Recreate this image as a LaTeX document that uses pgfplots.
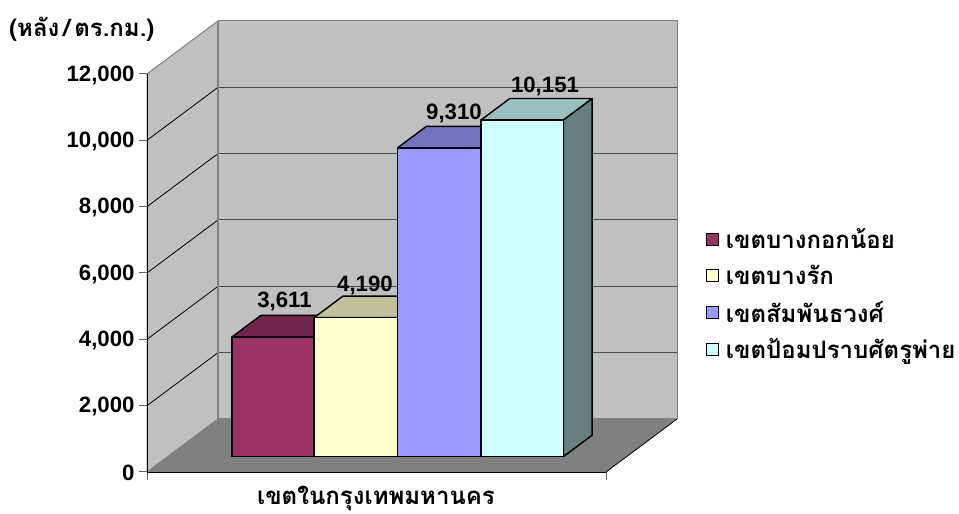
\documentclass[border=0pt]{standalone}
\usepackage{fontspec}
\usepackage{pgfplots}
\pgfplotsset{compat=1.18}
\setmainfont{Liberation Sans}
\newfontfamily\thaifont[Script=Thai]{Loma}
\definecolor{wall}{HTML}{C0C0C0}
\definecolor{floorc}{HTML}{808080}
\definecolor{aF}{HTML}{993366}\definecolor{aT}{HTML}{73264D}\definecolor{aS}{HTML}{4D1A33}
\definecolor{bF}{HTML}{FFFFCC}\definecolor{bT}{HTML}{C0C099}\definecolor{bS}{HTML}{808066}
\definecolor{cF}{HTML}{9999FF}\definecolor{cT}{HTML}{7373C0}\definecolor{cS}{HTML}{4D4D80}
\definecolor{dF}{HTML}{CCFFFF}\definecolor{dT}{HTML}{99C0C0}\definecolor{dS}{HTML}{668080}
\newcommand{\numf}{\fontsize{22.2}{24}\selectfont\bfseries}
\newcommand{\thf}{\fontsize{24}{26}\selectfont\bfseries\thaifont}
\begin{document}
\begin{tikzpicture}[x=1pt,y=1pt]
\path[use as bounding box] (0,0) rectangle (959,514);
\begin{axis}[
  at={(147pt,42pt)},anchor=origin,
  x={(1pt,0pt)},y={(71pt,53pt)},z={(0pt,0.033167pt)},
  xmin=0,xmax=459,ymin=0,ymax=1,zmin=0,zmax=12000,
  hide axis,clip=false,
]
% walls and floor
\addplot3[fill=wall,draw=floorc,line width=1pt] coordinates {(0,1,0)(459,1,0)(459,1,12000)(0,1,12000)(0,1,0)};
\addplot3[fill=wall,draw=floorc,line width=1pt] coordinates {(0,0,0)(0,1,0)(0,1,12000)(0,0,12000)(0,0,0)};
\addplot3[fill=floorc,draw=none] coordinates {(0,0,0)(459,0,0)(459,1,0)(0,1,0)(0,0,0)};
\addplot3[black,line width=0.8pt] coordinates {(459,0,0)(459,1,0)};
% gridlines
\pgfplotsinvokeforeach{2000,4000,6000,8000,10000}{
  \addplot3[black,line width=0.8pt] coordinates {(0,0,#1)(0,1,#1)};
  \addplot3[black!70,line width=1pt] coordinates {(0,1,#1)(459,1,#1)};
}
\addplot3[floorc,line width=1.4pt] coordinates {(0,1,0)(0,1,12000)};
% bar 1: 3611
\addplot3[fill=aS,draw=black,line width=1.4pt,line join=round] coordinates {(146.5,0.29,0)(146.5,0.695,0)(146.5,0.695,3611)(146.5,0.29,3611)(146.5,0.29,0)};
\addplot3[fill=aT,draw=black,line width=1.4pt,line join=round] coordinates {(64.5,0.29,3611)(146.5,0.29,3611)(146.5,0.695,3611)(64.5,0.695,3611)(64.5,0.29,3611)};
\addplot3[fill=aF,draw=black,line width=1.4pt,line join=round] coordinates {(64.5,0.29,0)(146.5,0.29,0)(146.5,0.29,3611)(64.5,0.29,3611)(64.5,0.29,0)};
% bar 2: 4190
\addplot3[fill=bS,draw=black,line width=1.4pt,line join=round] coordinates {(230,0.29,0)(230,0.695,0)(230,0.695,4190)(230,0.29,4190)(230,0.29,0)};
\addplot3[fill=bT,draw=black,line width=1.4pt,line join=round] coordinates {(146.5,0.29,4190)(230,0.29,4190)(230,0.695,4190)(146.5,0.695,4190)(146.5,0.29,4190)};
\addplot3[fill=bF,draw=black,line width=1.4pt,line join=round] coordinates {(146.5,0.29,0)(230,0.29,0)(230,0.29,4190)(146.5,0.29,4190)(146.5,0.29,0)};
% bar 3: 9310
\addplot3[fill=cS,draw=black,line width=1.4pt,line join=round] coordinates {(313.5,0.29,0)(313.5,0.695,0)(313.5,0.695,9310)(313.5,0.29,9310)(313.5,0.29,0)};
\addplot3[fill=cT,draw=black,line width=1.4pt,line join=round] coordinates {(230,0.29,9310)(313.5,0.29,9310)(313.5,0.695,9310)(230,0.695,9310)(230,0.29,9310)};
\addplot3[fill=cF,draw=black,line width=1.4pt,line join=round] coordinates {(230,0.29,0)(313.5,0.29,0)(313.5,0.29,9310)(230,0.29,9310)(230,0.29,0)};
% bar 4: 10151
\addplot3[fill=dS,draw=black,line width=1.4pt,line join=round] coordinates {(395.8,0.29,0)(395.8,0.695,0)(395.8,0.695,10151)(395.8,0.29,10151)(395.8,0.29,0)};
\addplot3[fill=dT,draw=black,line width=1.4pt,line join=round] coordinates {(313.5,0.29,10151)(395.8,0.29,10151)(395.8,0.695,10151)(313.5,0.695,10151)(313.5,0.29,10151)};
\addplot3[fill=dF,draw=black,line width=1.4pt,line join=round] coordinates {(313.5,0.29,0)(395.8,0.29,0)(395.8,0.29,10151)(313.5,0.29,10151)(313.5,0.29,0)};
\end{axis}
\begin{axis}[
  at={(147pt,42pt)},anchor=south west,scale only axis,
  width=459pt,height=398pt,
  xmin=0,xmax=459,ymin=0,ymax=12000,
  axis x line=bottom,axis y line=left,axis line style={-,black,line width=0.9pt},
  xtick={0,459},xticklabels={},
  ytick={0,2000,...,12000},
  tick align=outside,tick style={black!60,line width=1pt},
  major tick length=8pt,
  /pgf/number format/assume math mode=true,
  /pgf/number format/1000 sep={,},
  scaled y ticks=false,
  yticklabel style={font=\numf,xshift=-1pt,yshift=-1pt},
  legend style={draw=none,fill=none,at={(axis cs:556,5350)},anchor=west,
    row sep=11pt,nodes={inner sep=2pt},font=\thf},
  legend cell align=left,
  legend image code/.code={\draw[#1,line width=1pt] (0pt,-6pt) rectangle (12pt,6pt);\path (17pt,0pt);},
]
\addlegendimage{fill=aF,draw=black}\addlegendentry{เขตบางกอกน้อย}
\addlegendimage{fill=bF,draw=black}\addlegendentry{เขตบางรัก}
\addlegendimage{fill=cF,draw=black}\addlegendentry{เขตสัมพันธวงศ์}
\addlegendimage{fill=dF,draw=black}\addlegendentry{เขตป้อมปราบศัตรูพ่าย}
\end{axis}
\node[font=\numf] at (284.5,212.5) {3,611};
\node[font=\numf] at (365,228.5) {4,190};
\node[font=\numf] at (454,400.5) {9,310};
\node[font=\numf] at (545,427.5) {10,151};
\node[font=\thf,anchor=west,inner sep=0pt] at (9,485) {(หลัง\,/\,ตร.กม.)};
\node[font=\thf,inner sep=0pt,anchor=base] at (376,9) {เขตในกรุงเทพมหานคร};
\end{tikzpicture}
\end{document}
